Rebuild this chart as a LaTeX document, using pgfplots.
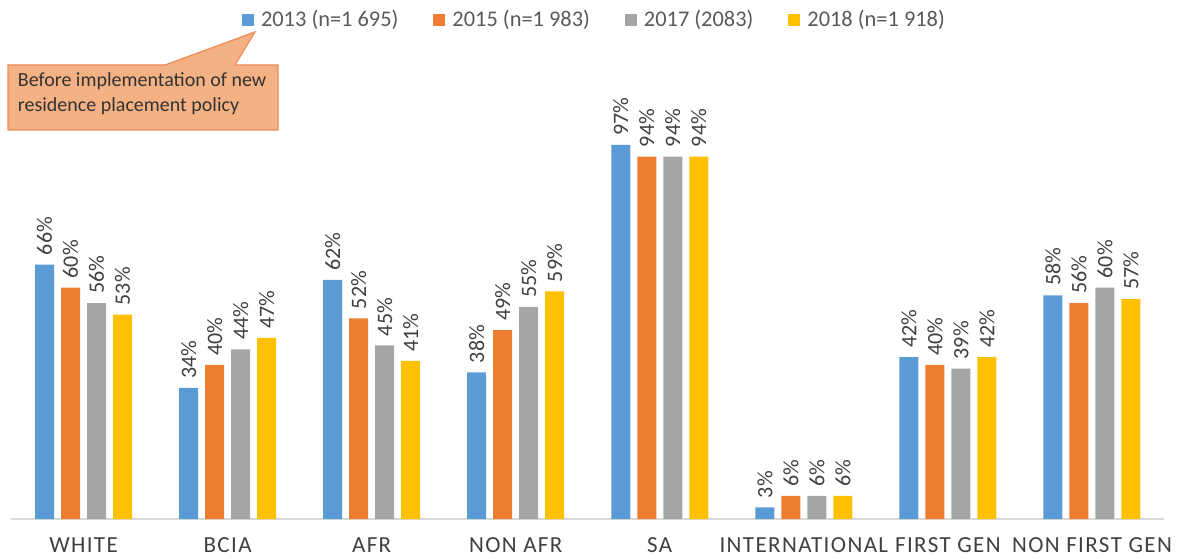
\documentclass[border=0pt]{standalone}
\usepackage{fontspec}
\setmainfont{Carlito}
\usepackage{pgfplots}
\pgfplotsset{compat=1.18}
\definecolor{cA}{HTML}{5B9BD5}
\definecolor{cB}{HTML}{ED7D31}
\definecolor{cC}{HTML}{A5A5A5}
\definecolor{cD}{HTML}{FFC000}
\definecolor{txt}{HTML}{404040}
\definecolor{calfill}{HTML}{F4B183}
\definecolor{caldraw}{HTML}{EE8A55}

\begin{document}
\begin{tikzpicture}
\useasboundingbox (-5.75pt,-19.5pt) rectangle (589.75pt,259.5pt);
\begin{axis}[
  at={(0pt,0pt)}, anchor=south west,
  scale only axis, width=576.25pt, height=192.8pt,
  xmin=-0.5, xmax=7.5, ymin=0, ymax=100,
  ybar=3.5pt, bar width=9.5pt,
  axis x line*=bottom, axis y line=none,
  x axis line style={draw=black!15, -, line width=0.8pt},
  xtick={0,...,7},
  xticklabels={WHITE,BCIA,AFR,NON AFR,SA,INTERNATIONAL,FIRST GEN,NON FIRST GEN},
  major tick length=0pt,
  x tick label style={font=\fontsize{11.5}{12}\selectfont\addfontfeatures{LetterSpace=6}, text=txt, yshift=-6pt},
  /pgf/number format/assume math mode=true,
  nodes near coords={\pgfmathprintnumber{\pgfplotspointmeta}\%},
  nodes near coords style={font=\fontsize{11}{12}\selectfont, text=txt, rotate=90, anchor=west, inner xsep=4.5pt, inner ysep=2pt},
  every axis plot/.append style={draw=none},
  legend image code/.code={\fill[#1] (0pt,-3pt) rectangle (6pt,3pt);},
  legend columns=4,
  legend style={draw=none, fill=none, at={(0.508,1.294)}, anchor=center,
    font=\fontsize{11.2}{12}\selectfont, text=black!65,
    nodes={inner xsep=3.5pt},
    /tikz/every even column/.append style={column sep=14pt}},
]
\addplot[fill=cA] coordinates {(0,66) (1,34) (2,62) (3,38) (4,97) (5,3) (6,42) (7,58)};
\addplot[fill=cB] coordinates {(0,60) (1,40) (2,52) (3,49) (4,94) (5,6) (6,40) (7,56)};
\addplot[fill=cC] coordinates {(0,56) (1,44) (2,45) (3,55) (4,94) (5,6) (6,39) (7,60)};
\addplot[fill=cD] coordinates {(0,53) (1,47) (2,41) (3,59) (4,94) (5,6) (6,42) (7,57)};
\legend{2013 (n=1 695),2015 (n=1 983),2017 (2083),2018 (n=1 918)}
\end{axis}
\draw[fill=calfill, draw=caldraw, line width=0.6pt]
  (-1.75pt,194.5pt) -- (-1.75pt,227pt) -- (76.75pt,227pt) -- (121.75pt,243.5pt)
  -- (111.75pt,227pt) -- (133.25pt,227pt) -- (133.25pt,194.5pt) -- cycle;
\node[anchor=north west, align=left, text=black!80, font=\fontsize{10}{12.5}\selectfont, inner sep=0pt]
  at (3pt,223.5pt) {Before implementation of new\\residence placement policy};
\end{tikzpicture}
\end{document}
